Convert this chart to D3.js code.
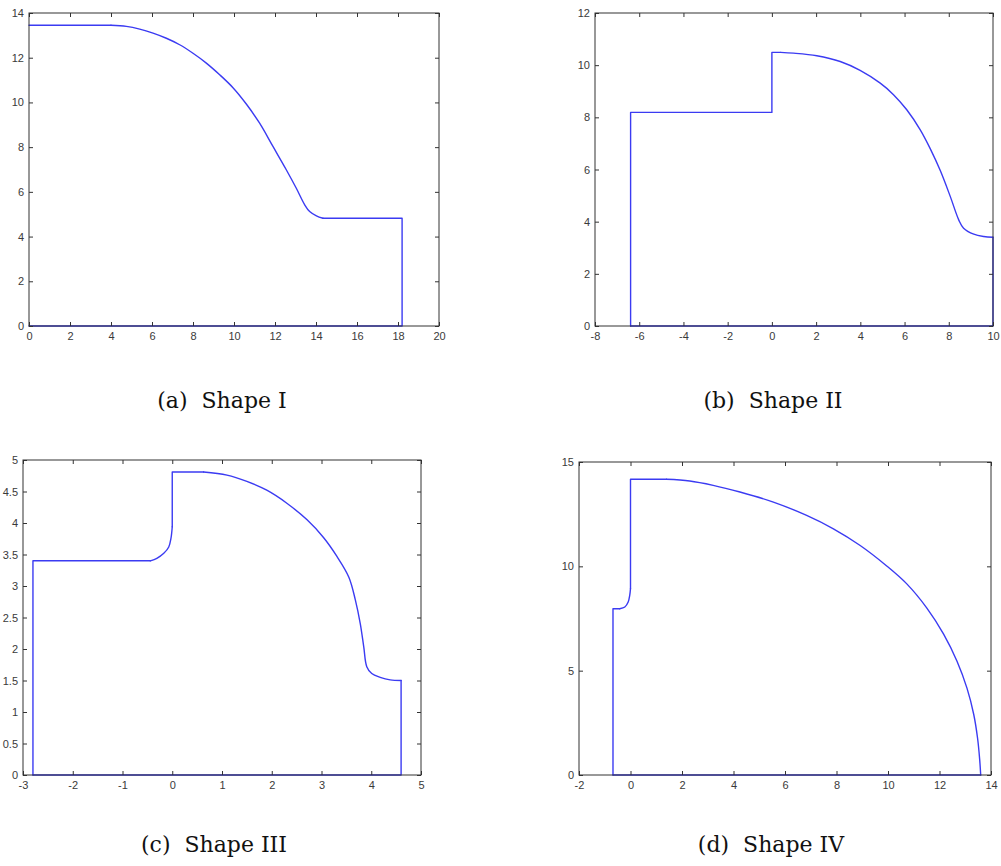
<!DOCTYPE html>
<html>
<head>
<meta charset="utf-8">
<script src="https://cdn.jsdelivr.net/npm/d3@7"></script>
<style>
  html, body { margin: 0; padding: 0; background: #fff; }
  svg { display: block; }
  .tick text { font-family: "Liberation Sans", Arial, sans-serif; font-size: 11px; fill: #3a3a3a; }
  .caption { font-family: "DejaVu Serif", serif; font-size: 22px; fill: #111; }
</style>
</head>
<body>
<script>
// ---- Data ----
const shapeIX = [0, 4.0, 4.75, 5.4, 6.05, 6.7, 7.35, 8.0, 8.65, 9.3, 9.95, 10.6, 11.25, 11.9, 12.55, 13.04, 13.45, 13.69, 14.02, 14.34, 18.2, 18.2, 0];
const shapeIY = [13.45, 13.45, 13.4, 13.28, 13.1, 12.87, 12.58, 12.2, 11.76, 11.24, 10.66, 9.93, 9.07, 8.03, 6.99, 6.16, 5.42, 5.12, 4.93, 4.82, 4.82, 0, 0];
const smoothI = [[1, 19]];

const shapeIIX = [-6.39, -6.39, 0, 0, 0.4, 0.98, 2.03, 3.09, 3.99, 4.9, 5.5, 6.1, 6.71, 7.16, 7.62, 8.07, 8.45, 8.67, 9.13, 9.58, 10, 10, -6.39];
const shapeIIY = [0, 8.19, 8.19, 10.49, 10.49, 10.46, 10.36, 10.14, 9.8, 9.31, 8.87, 8.29, 7.52, 6.8, 5.95, 4.96, 4.07, 3.75, 3.52, 3.43, 3.4, 0, 0];
const smoothII = [[4, 20]];

const shapeIIIX = [-2.8, -2.8, -0.44, -0.31, -0.17, -0.07, -0.025, 0, 0, 0.63, 1.1, 1.5, 1.9, 2.31, 2.71, 3.04, 3.31, 3.55, 3.68, 3.78, 3.85, 3.91, 4.01, 4.18, 4.38, 4.6, 4.6, -2.8];
const shapeIIIY = [0, 3.4, 3.4, 3.44, 3.52, 3.62, 3.76, 3.94, 4.81, 4.81, 4.76, 4.66, 4.52, 4.31, 4.05, 3.77, 3.47, 3.14, 2.78, 2.4, 2.03, 1.72, 1.61, 1.55, 1.51, 1.5, 0, 0];
const smoothIII = [[2, 7], [9, 25]];

const shapeIVX = [-0.68, -0.68, -0.42, -0.22, -0.09, -0.03, 0, 0, 1.4, 2.3, 3.21, 4.25, 5.55, 6.84, 7.88, 8.92, 9.95, 10.73, 11.51, 12.16, 12.68, 13.07, 13.33, 13.48, 13.56, 13.6, -0.68];
const shapeIVY = [0, 7.97, 7.97, 8.05, 8.29, 8.61, 8.93, 14.17, 14.17, 14.09, 13.88, 13.56, 13.08, 12.44, 11.8, 11.0, 10.02, 9.16, 8.0, 6.75, 5.45, 4.15, 2.9, 1.75, 0.75, 0, 0];
const smoothIV = [[2, 6], [8, 25]];

const xTicksI = [0, 2, 4, 6, 8, 10, 12, 14, 16, 18, 20];
const yTicksI = [0, 2, 4, 6, 8, 10, 12, 14];
const xTicksII = [-8, -6, -4, -2, 0, 2, 4, 6, 8, 10];
const yTicksII = [0, 2, 4, 6, 8, 10, 12];
const xTicksIII = [-3, -2, -1, 0, 1, 2, 3, 4, 5];
const yTicksIII = [0, 0.5, 1, 1.5, 2, 2.5, 3, 3.5, 4, 4.5, 5];
const xTicksIV = [-2, 0, 2, 4, 6, 8, 10, 12, 14];
const yTicksIV = [0, 5, 10, 15];

const captions = ["(a)  Shape I", "(b)  Shape II", "(c)  Shape III", "(d)  Shape IV"];

// ---- Layout ----
const W = 1001, H = 866;
const svg = d3.select("body").append("svg").attr("width", W).attr("height", H);

const panels = [
  { xs: shapeIX, ys: shapeIY, sm: smoothI, xt: xTicksI, yt: yTicksI, box: [29, 439, 13, 326], cap: captions[0], cx: 222, cy: 408 },
  { xs: shapeIIX, ys: shapeIIY, sm: smoothII, xt: xTicksII, yt: yTicksII, box: [595, 993, 13, 326], cap: captions[1], cx: 773, cy: 408 },
  { xs: shapeIIIX, ys: shapeIIIY, sm: smoothIII, xt: xTicksIII, yt: yTicksIII, box: [23, 421, 460, 775], cap: captions[2], cx: 214, cy: 852 },
  { xs: shapeIVX, ys: shapeIVY, sm: smoothIV, xt: xTicksIV, yt: yTicksIV, box: [579, 991, 462, 775], cap: captions[3], cx: 771, cy: 852 }
];

const fmt = d => String(d);
const axisColor = "#333";
const lineColor = "#3b3bf2";

// split point list into linear and smooth pieces
function pieces(n, spans) {
  const out = [];
  let i = 0;
  spans.slice().sort((a, b) => a[0] - b[0]).forEach(([s, e]) => {
    if (s > i) out.push([i, s, false]);
    out.push([s, e, true]);
    i = e;
  });
  if (i < n - 1) out.push([i, n - 1, false]);
  return out;
}

panels.forEach(p => {
  const [l, r, t, b] = p.box;
  const x = d3.scaleLinear().domain([p.xt[0], p.xt[p.xt.length - 1]]).range([l, r]);
  const y = d3.scaleLinear().domain([p.yt[0], p.yt[p.yt.length - 1]]).range([b, t]);
  const g = svg.append("g");

  const pts = p.xs.map((v, i) => [v, p.ys[i]]);
  const linLine = d3.line().x(d => x(d[0])).y(d => y(d[1]));
  const smLine = d3.line().x(d => x(d[0])).y(d => y(d[1])).curve(d3.curveCatmullRom.alpha(0.5));

  pieces(pts.length, p.sm).forEach(([s, e, smooth]) => {
    g.append("path")
      .datum(pts.slice(s, e + 1))
      .attr("d", smooth ? smLine : linLine)
      .attr("fill", "none")
      .attr("stroke", lineColor)
      .attr("stroke-width", 1.4)
      .attr("stroke-linejoin", "round")
      .attr("stroke-linecap", "round");
  });

  // axes (inward ticks on all sides)
  const bottom = g.append("g").attr("transform", `translate(0,${b})`)
    .call(d3.axisBottom(x).tickValues(p.xt).tickFormat(fmt).tickSizeInner(-4).tickSizeOuter(0).tickPadding(6));
  const top = g.append("g").attr("transform", `translate(0,${t})`)
    .call(d3.axisTop(x).tickValues(p.xt).tickFormat("").tickSizeInner(-4).tickSizeOuter(0));
  const left = g.append("g").attr("transform", `translate(${l},0)`)
    .call(d3.axisLeft(y).tickValues(p.yt).tickFormat(fmt).tickSizeInner(-4).tickSizeOuter(0).tickPadding(5));
  const right = g.append("g").attr("transform", `translate(${r},0)`)
    .call(d3.axisRight(y).tickValues(p.yt).tickFormat("").tickSizeInner(-4).tickSizeOuter(0));
  [bottom, top, left, right].forEach(a => {
    a.select(".domain").remove();
    a.selectAll(".tick line").attr("stroke", axisColor);
  });

  // frame
  g.append("rect").attr("x", l).attr("y", t).attr("width", r - l).attr("height", b - t)
    .attr("fill", "none").attr("stroke", axisColor).attr("stroke-width", 1);

  // caption
  svg.append("text").attr("class", "caption")
    .attr("x", p.cx).attr("y", p.cy).attr("text-anchor", "middle")
    .attr("xml:space", "preserve")
    .text(p.cap);
});
</script>
</body>
</html>
